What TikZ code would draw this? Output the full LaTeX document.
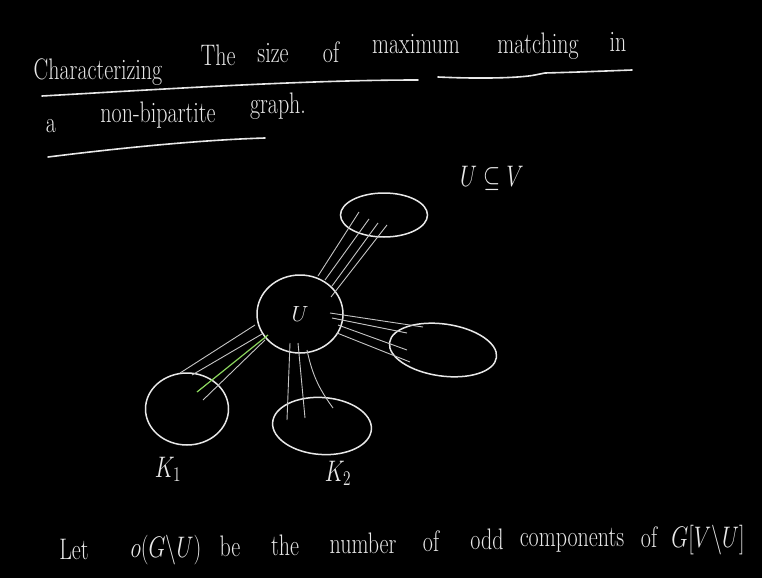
\documentclass[tikz,border=0pt]{standalone}
\usepackage{fix-cm}
\usepackage{graphicx}
\usepackage{tikz}
\usetikzlibrary{shapes.geometric}
\definecolor{chalk}{RGB}{232,232,232}
\definecolor{chalkgreen}{RGB}{140,215,95}
\newcommand{\tall}[1]{\scalebox{1}[1.35]{#1}}

\begin{document}
\begin{tikzpicture}[x=1pt, y=-1pt]
  \tikzstyle{hand} = [text=chalk, anchor=base, inner sep=0pt, font=\fontsize{22}{26}\selectfont]
  \tikzstyle{blob} = [ellipse, draw=chalk, line width=1.5pt, inner sep=0pt]
  \tikzstyle{wire} = [draw=chalk!85!black, line width=0.9pt]
  \tikzstyle{uline} = [draw=chalk, line width=1.6pt, line cap=round]

  \fill[black] (0,0) rectangle (762,578);

  % title
  \foreach \w/\x/\y [count=\i] in {Characterizing/98/79, The/218/65, size/273/63, of/331/63,
      maximum/416/53, matching/538/53, in/618/52, a/51/132, non-bipartite/158/122, graph./278/113}
    \node[hand] (t\i) at (\x,\y) {\tall{\w}};
  \draw[uline] (42,96) .. controls (150,90) and (300,80) .. (418,80);
  \draw[uline] (438,77) .. controls (480,79) and (520,78) .. (535,75) -- (545,73) .. controls (580,72) .. (632,70);
  \draw[uline] (48,157) .. controls (120,148) and (200,140) .. (265,138);

  \node[hand] (sub) at (492,186) {\tall{$U\subseteq V$}};

  % components
  \node[blob, minimum width=86pt, minimum height=78pt, hand, anchor=center] (U) at (300,314) {$U$};
  \node[blob, minimum width=87pt, minimum height=44pt] (top) at (384,215) {};
  \node[blob, minimum width=108pt, minimum height=52pt, rotate=-8] (right) at (443,350) {};
  \node[blob, minimum width=99pt, minimum height=57pt, rotate=-4] (K2) at (322,426) {};
  \node[blob, minimum width=83pt, minimum height=72pt] (K1) at (187,409) {};

  \node[hand] (k1) at (168,477) {\tall{$K_1$}};
  \node[hand] (k2) at (338,481) {\tall{$K_2$}};

  % edges to the top component
  \draw[wire] ([shift={(18,-38)}]U.center) -- ([shift={(-25,-3)}]top.center);
  \draw[wire] ([shift={(25,-34)}]U.center) -- ([shift={(-15,4)}]top.center);
  \draw[wire] ([shift={(32,-28)}]U.center) -- ([shift={(-6,8)}]top.center);
  \draw[wire] ([shift={(31,-17)}]U.center) -- ([shift={(3,10)}]top.center);
  % edges to the right component
  \draw[wire] ([shift={(30,-1)}]U.center) -- ([shift={(-20,-23)}]right.center);
  \draw[wire] ([shift={(32,4)}]U.center) -- ([shift={(-36,-17)}]right.center);
  \draw[wire] ([shift={(38,11)}]U.center) -- ([shift={(-36,0)}]right.center);
  \draw[wire] ([shift={(37,19)}]U.center) -- ([shift={(-33,12)}]right.center);
  % edges to K1
  \draw[wire] ([shift={(-45,11)}]U.center) -- ([shift={(-7,-36)}]K1.center);
  \draw[wire] ([shift={(-38,20)}]U.center) -- ([shift={(5,-34)}]K1.center);
  \draw[wire] ([shift={(-35,26)}]U.center) -- ([shift={(16,-9)}]K1.center);
  \draw[wire, draw=chalkgreen, line width=1.2pt] ([shift={(-32,21)}]U.center) -- ([shift={(10,-17)}]K1.center);
  % edges to K2
  \draw[wire] ([shift={(-10,29)}]U.center) -- ([shift={(-35,-6)}]K2.center);
  \draw[wire] ([shift={(-2,29)}]U.center) -- ([shift={(-17,-8)}]K2.center);
  \draw[wire] ([shift={(7,36)}]U.center) to[bend right=12] ([shift={(11,-18)}]K2.center);

  % bottom line
  \foreach \w/\x/\y [count=\i] in {Let/74/559, {$o(G\backslash U)$}/166/557, be/230/556, the/285/555,
      number/363/553, of/431/551, odd/487/549, components/572/546, of/649/547, {$G[V\backslash U]$}/708/547}
    \node[hand] (b\i) at (\x,\y) {\tall{\w}};
\end{tikzpicture}
\end{document}
